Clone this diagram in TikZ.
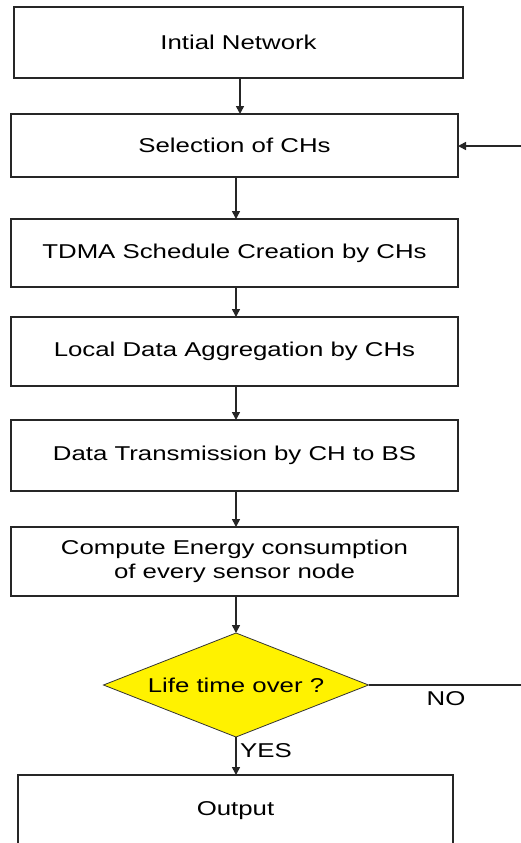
\documentclass[tikz,border=0pt]{standalone}
\usepackage{fontspec}
\setmainfont{Liberation Sans}[FakeStretch=1.29]
\usetikzlibrary{shapes.geometric,arrows.meta}
\begin{document}
\begin{tikzpicture}[x=1pt,y=-1pt,
  stepbox/.style={draw=black!85,line width=1.6pt,rectangle,minimum width=447pt,
    inner sep=0pt,outer sep=0pt,align=center,font=\fontsize{20}{24}\selectfont},
  decision/.style={draw=black!80,line width=0.8pt,diamond,aspect=2.55,fill=yellow,
    minimum width=265pt,minimum height=104pt,inner sep=0pt,outer sep=0pt,
    font=\fontsize{20}{22}\selectfont},
  flow/.style={draw=black!85,line width=1.6pt,-{Triangle[length=8pt,width=8pt]}},
  plain/.style={draw=black!85,line width=1.6pt},
  lbl/.style={font=\fontsize{20}{22}\selectfont,inner sep=0pt}]
\useasboundingbox[fill=white] (0,0) rectangle (520,843);

\node[stepbox,minimum width=449pt,minimum height=71pt] (init) at (238.5,42.5) {Intial Network};
\node[stepbox,minimum height=63pt] (sel) at (234.5,145.5) {Selection of CHs};
\node[stepbox,minimum height=68pt] (tdma) at (234.5,253) {TDMA Schedule Creation by CHs};
\node[stepbox,minimum height=69pt] (agg) at (234.5,351.5) {Local Data Aggregation by CHs};
\node[stepbox,minimum height=71pt] (tx) at (234.5,455.5) {Data Transmission by CH to BS};
\node[stepbox,minimum height=69pt] (energy) at (234.5,561.5) {Compute Energy consumption\\of every sensor node};
\node[decision] (life) at (236,685) {Life time over ?};
\node[stepbox,minimum width=435pt,minimum height=71pt] (out) at (235.5,810.5) {Output};

% vertical spines of the main flow and the loop's free ends
\coordinate (topspine) at (240,0);
\coordinate (spine) at (236,0);
\coordinate (loopin) at (522,146);
\coordinate (loopout) at (522,685);

\draw[flow] (init.south -| topspine) -- (sel.north -| topspine);
\draw[flow] (sel.south -| spine) -- (tdma.north -| spine);
\draw[flow] (tdma.south -| spine) -- (agg.north -| spine);
\draw[flow] (agg.south -| spine) -- (tx.north -| spine);
\draw[flow] (tx.south -| spine) -- (energy.north -| spine);
\draw[flow] (energy.south -| spine) -- (life.north);
\draw[flow] (life.south) -- (out.north -| spine);
\draw[plain] (life.east) -- (loopout);
\draw[flow] (loopin) -- (sel.east |- loopin);

\node[lbl] (no) at (446,699) {NO};
\node[lbl] (yes) at (266,751) {YES};
\end{tikzpicture}
\end{document}
